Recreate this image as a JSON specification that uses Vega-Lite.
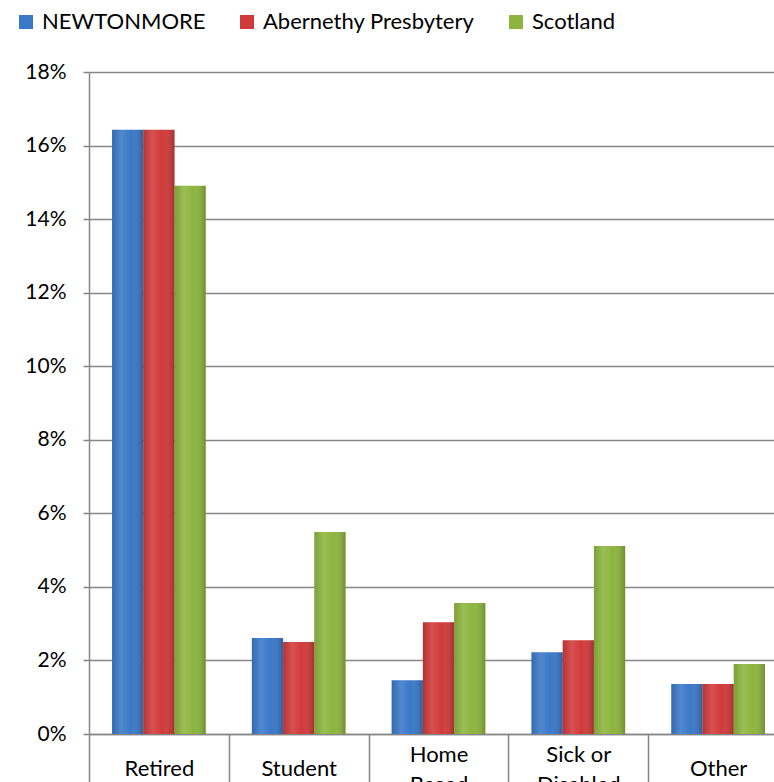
{
  "$schema": "https://vega.github.io/schema/vega-lite/v6.json",
  "width": 685,
  "height": 662,
  "autosize": {"type": "none"},
  "padding": {"left": 89, "top": 72, "right": 0, "bottom": 48},
  "background": "white",
  "config": {
    "font": "Lato",
    "view": {"stroke": null},
    "axis": {"labelColor": "black", "labelFont": "Lato"}
  },
  "data": {
    "values": [
      {"category": "Retired", "series": "NEWTONMORE", "value": 0.1643},
      {"category": "Retired", "series": "Abernethy Presbytery", "value": 0.1643},
      {"category": "Retired", "series": "Scotland", "value": 0.1491},
      {"category": "Student", "series": "NEWTONMORE", "value": 0.0261},
      {"category": "Student", "series": "Abernethy Presbytery", "value": 0.0250},
      {"category": "Student", "series": "Scotland", "value": 0.0549},
      {"category": "Home Based", "series": "NEWTONMORE", "value": 0.0146},
      {"category": "Home Based", "series": "Abernethy Presbytery", "value": 0.0304},
      {"category": "Home Based", "series": "Scotland", "value": 0.0356},
      {"category": "Sick or Disabled", "series": "NEWTONMORE", "value": 0.0222},
      {"category": "Sick or Disabled", "series": "Abernethy Presbytery", "value": 0.0255},
      {"category": "Sick or Disabled", "series": "Scotland", "value": 0.0511},
      {"category": "Other", "series": "NEWTONMORE", "value": 0.0136},
      {"category": "Other", "series": "Abernethy Presbytery", "value": 0.0136},
      {"category": "Other", "series": "Scotland", "value": 0.0190}
    ]
  },
  "encoding": {
    "x": {
      "field": "category",
      "type": "nominal",
      "sort": ["Retired", "Student", "Home Based", "Sick or Disabled", "Other"],
      "scale": {"range": [0, 699], "paddingInner": 0, "paddingOuter": 0},
      "axis": {
        "title": null,
        "labelAngle": 0,
        "labelFontSize": 22,
        "labelBaseline": {
          "condition": {"test": "datum.value == 'Home Based' || datum.value == 'Sick or Disabled'", "value": "middle"},
          "value": "line-top"
        },
        "labelPadding": -27.5,
        "labelLineHeight": 29.5,
        "labelExpr": "datum.label == 'Home Based' ? ['Home', 'Based'] : datum.label == 'Sick or Disabled' ? ['Sick or', 'Disabled'] : datum.label",
        "tickBand": "extent",
        "tickSize": 48,
        "tickColor": "#868686",
        "tickWidth": 1.5,
        "domainColor": "#868686",
        "domainWidth": 1.5,
        "grid": false
      }
    },
    "xOffset": {
      "field": "series",
      "sort": ["NEWTONMORE", "Abernethy Presbytery", "Scotland"],
      "scale": {"paddingInner": 0, "paddingOuter": 0.738}
    },
    "y": {
      "field": "value",
      "type": "quantitative",
      "scale": {"domain": [0, 0.18]},
      "axis": {
        "title": null,
        "values": [0, 0.02, 0.04, 0.06, 0.08, 0.1, 0.12, 0.14, 0.16, 0.18],
        "format": ".0%",
        "labelFontSize": 21,
        "labelPadding": 17,
        "tickSize": 6,
        "tickColor": "#868686",
        "tickWidth": 1.5,
        "domainColor": "#868686",
        "domainWidth": 1.5,
        "gridColor": "#868686",
        "gridWidth": 1.5
      }
    }
  },
  "layer": [
    {
      "mark": {"type": "bar"},
      "encoding": {
        "color": {
          "field": "series",
          "type": "nominal",
          "sort": ["NEWTONMORE", "Abernethy Presbytery", "Scotland"],
          "scale": {
            "domain": ["NEWTONMORE", "Abernethy Presbytery", "Scotland"],
            "range": ["#3A78C8", "#D13A3A", "#8DB53E"]
          },
          "legend": {
            "orient": "none",
            "legendX": -74,
            "legendY": -61,
            "direction": "horizontal",
            "title": null,
            "symbolType": "square",
            "symbolSize": 196,
            "symbolStrokeWidth": 0,
            "labelFontSize": 22,
            "labelOffset": 5,
            "labelLimit": 0,
            "columnPadding": 30,
            "labelColor": "black"
          }
        }
      }
    },
    {
      "mark": {
        "type": "bar",
        "fill": {
          "gradient": "linear",
          "x1": 0, "y1": 0, "x2": 1, "y2": 0,
          "stops": [
            {"offset": 0, "color": "rgba(0,0,0,0.12)"},
            {"offset": 0.3, "color": "rgba(255,255,255,0.12)"},
            {"offset": 0.6, "color": "rgba(255,255,255,0.0)"},
            {"offset": 1, "color": "rgba(0,0,0,0.22)"}
          ]
        }
      }
    }
  ]
}
